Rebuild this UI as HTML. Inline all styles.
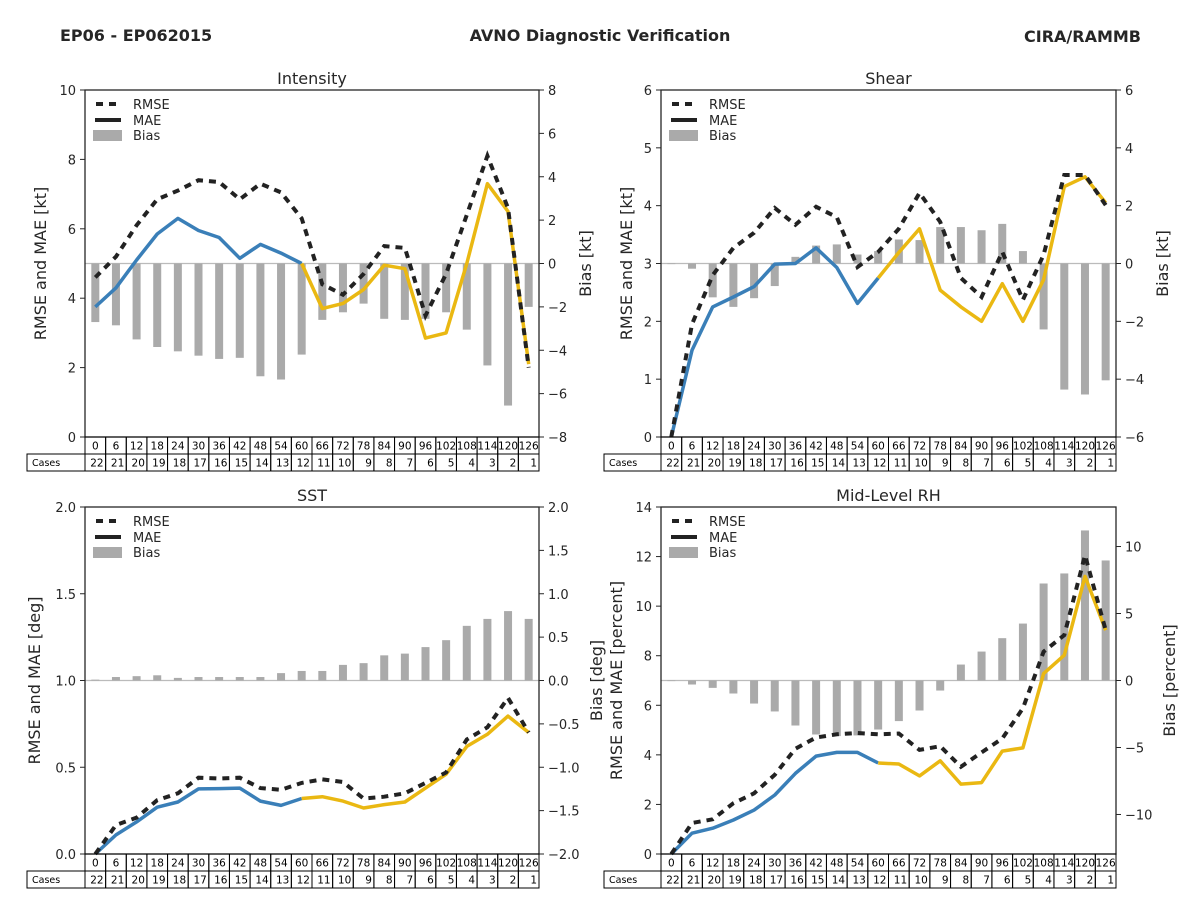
<!DOCTYPE html>
<html><head><meta charset="utf-8"><style>
html,body{margin:0;padding:0;background:#fff;}
svg{display:block;font-family:"DejaVu Sans","Liberation Sans",sans-serif;}
</style></head><body>
<svg id="fig" width="1200" height="900" viewBox="0 0 1200 900" xmlns="http://www.w3.org/2000/svg">
<text x="60" y="41" font-size="16" font-weight="bold" fill="#262626">EP06 - EP062015</text>
<text x="600" y="41" font-size="16" font-weight="bold" fill="#262626" text-anchor="middle">AVNO Diagnostic Verification</text>
<text x="1141" y="42" font-size="16" font-weight="bold" fill="#262626" text-anchor="end">CIRA/RAMMB</text>
</svg>
<script>
const hours = [0,6,12,18,24,30,36,42,48,54,60,66,72,78,84,90,96,102,108,114,120,126];
const cases = [22,21,20,19,18,17,16,15,14,13,12,11,10,9,8,7,6,5,4,3,2,1];

const intRmse = [4.6,5.2,6.1,6.85,7.1,7.4,7.35,6.85,7.3,7.05,6.3,4.4,4.1,4.7,5.5,5.45,3.5,4.7,6.4,8.1,6.6,2.0];
const intMae  = [3.75,4.3,5.1,5.85,6.3,5.95,5.75,5.15,5.55,5.3,5.0,3.7,3.85,4.25,4.95,4.85,2.85,3.0,5.0,7.3,6.5,2.1];
const intBias = [-2.7,-2.85,-3.5,-3.85,-4.05,-4.25,-4.4,-4.35,-5.2,-5.35,-4.2,-2.6,-2.25,-1.85,-2.55,-2.6,-2.55,-2.25,-3.05,-4.7,-6.55,-2.0];

const shrRmse = [0,1.95,2.8,3.27,3.53,3.96,3.67,3.98,3.8,2.94,3.2,3.6,4.22,3.72,2.75,2.42,3.2,2.37,3.15,4.53,4.53,4.01];
const shrMae  = [0,1.5,2.25,2.42,2.6,2.99,3.0,3.27,2.93,2.31,2.75,3.19,3.6,2.54,2.25,2.0,2.65,2.0,2.72,4.33,4.5,4.05];
const shrBias = [0,-0.18,-1.17,-1.5,-1.2,-0.78,0.23,0.62,0.66,0.31,0.43,0.83,0.81,1.26,1.26,1.15,1.37,0.43,-2.28,-4.36,-4.53,-4.04];

const sstRmse = [0,0.167,0.21,0.31,0.35,0.44,0.435,0.44,0.38,0.37,0.41,0.43,0.415,0.32,0.33,0.35,0.41,0.47,0.66,0.73,0.9,0.70];
const sstMae  = [0,0.11,0.185,0.27,0.30,0.375,0.377,0.38,0.305,0.28,0.32,0.33,0.305,0.265,0.285,0.30,0.38,0.46,0.62,0.69,0.795,0.70];
const sstBias = [0.01,0.04,0.05,0.06,0.03,0.04,0.04,0.04,0.04,0.085,0.11,0.11,0.18,0.2,0.29,0.31,0.385,0.465,0.63,0.71,0.8,0.71];

const rhRmse = [0,1.25,1.4,2.05,2.45,3.2,4.25,4.7,4.83,4.88,4.83,4.86,4.2,4.35,3.52,4.1,4.66,5.88,8.16,8.83,12.05,9.03];
const rhMae  = [0,0.84,1.04,1.37,1.77,2.38,3.25,3.95,4.1,4.1,3.67,3.63,3.15,3.76,2.82,2.88,4.15,4.28,7.28,8.02,11.2,9.03];
const rhBias = [0,-0.3,-0.55,-0.97,-1.72,-2.31,-3.36,-4.03,-4.15,-4.1,-3.66,-3.03,-2.24,-0.75,1.19,2.16,3.16,4.25,7.24,7.99,11.2,8.96];

const intLeftTicks = [0,2,4,6,8,10];
const intRightTicks = [-8,-6,-4,-2,0,2,4,6,8];
const shrLeftTicks = [0,1,2,3,4,5,6];
const shrRightTicks = [-6,-4,-2,0,2,4,6];
const sstLeftTicks = [0,0.5,1.0,1.5,2.0];
const sstRightTicks = [-2,-1.5,-1,-0.5,0,0.5,1,1.5,2];
const rhLeftTicks = [0,2,4,6,8,10,12,14];
const rhRightTicks = [-10,-5,0,5,10];

const NS = "http://www.w3.org/2000/svg";
const svg = document.getElementById('fig');
function mk(tag, attrs, parent, text){
  const e = document.createElementNS(NS, tag);
  for (const k in attrs) e.setAttribute(k, attrs[k]);
  if (text !== undefined) e.textContent = text;
  (parent||svg).appendChild(e);
  return e;
}
function fmt(v, dec){ const s = Math.abs(v).toFixed(dec); return (v < 0 ? '\u2212' : '') + s; }

function panel(o){
  const g = mk('g', {});
  
  
  const L=o.L,R=o.R,T=o.T,B=o.B, n=hours.length, w=(R-L)/n;
  const x = i => L + (i+0.5)*w;
  const yl = v => B - (v - o.lmin)/(o.lmax - o.lmin)*(B-T);
  const yr = v => B - (v - o.rmin)/(o.rmax - o.rmin)*(B-T);

  const t = mk('text', {x:(L+R)/2, y:T-6, 'font-size':16, 'text-anchor':'middle', fill:'#262626'}, g, o.title);
  
  

  // zero bias line
  const z = mk('line', {x1:L, x2:R, y1:yr(0), y2:yr(0), stroke:'#bbbbbb', 'stroke-width':1.2}, g);
  
  

  // bars
  const bw = 8;
  o.bias.forEach((v,i)=>{
    const y0 = yr(0), y1 = yr(v);
    const r = mk('rect', {x:x(i)-bw/2, y:Math.min(y0,y1), width:bw, height:Math.max(Math.abs(y1-y0),0.6), fill:'#aaaaaa'}, g);
    
    
  });

  // MAE lines
  const pts = (arr, a, b) => arr.slice(a, b).map((v,k)=> x(a+k).toFixed(1)+','+yl(v).toFixed(1)).join(' ');
  const m1 = mk('polyline', {points:pts(o.mae,0,11), fill:'none', stroke:'#3a7fb8', 'stroke-width':3.5, 'stroke-linejoin':'round'}, g);
  
  
  const m2 = mk('polyline', {points:pts(o.mae,10,22), fill:'none', stroke:'#eab812', 'stroke-width':3.5, 'stroke-linejoin':'round'}, g);
  
  
  const rm = mk('polyline', {points:pts(o.rmse,0,22), fill:'none', stroke:'#222', 'stroke-width':4, 'stroke-dasharray':'7,6'}, g);
  
  

  // frame
  const f = mk('rect', {x:L, y:T, width:R-L, height:B-T, fill:'none', stroke:'#262626', 'stroke-width':1.3}, g);
  
  

  // left ticks
  o.lticks.forEach(v=>{
    const y = yl(v);
    mk('line', {x1:L-5, x2:L, y1:y, y2:y, stroke:'#262626', 'stroke-width':1}, g);
    const tl = mk('text', {x:L-9, y:y+5, 'font-size':13, 'text-anchor':'end', fill:'#262626'}, g, fmt(v, o.ldec));
    
    
  });
  o.rticks.forEach(v=>{
    const y = yr(v);
    mk('line', {x1:R, x2:R+5, y1:y, y2:y, stroke:'#262626', 'stroke-width':1}, g);
    const tr = mk('text', {x:R+9, y:y+5, 'font-size':13, 'text-anchor':'start', fill:'#262626'}, g, fmt(v, o.rdec));
    
    
  });

  // axis labels
  o.llabels.forEach(lb=>{
    const a = mk('text', {x:lb.x, y:(T+B)/2, 'font-size':16, 'text-anchor':'middle', fill:'#262626', transform:`rotate(-90 ${lb.x} ${(T+B)/2})`}, g, lb.text);
    
    
  });
  if (o.rlabel){
    const rx = o.rlabel.x;
    const a = mk('text', {x:rx, y:(T+B)/2, 'font-size':16, 'text-anchor':'middle', fill:'#262626', transform:`rotate(-90 ${rx} ${(T+B)/2})`}, g, o.rlabel.text);
    
    
  }

  // legend
  const lg = mk('g', {}, g);
  
  
  const lx = L+8, ly = T+14;
  mk('line', {x1:lx+3, x2:lx+28, y1:ly, y2:ly, stroke:'#222', 'stroke-width':4, 'stroke-dasharray':'7,6'}, lg);
  const e1 = mk('text', {x:lx+40, y:ly+5, 'font-size':13, fill:'#262626'}, lg, 'RMSE');
  
  
  mk('line', {x1:lx+2, x2:lx+28, y1:ly+16, y2:ly+16, stroke:'#222', 'stroke-width':4}, lg);
  const e2 = mk('text', {x:lx+40, y:ly+21, 'font-size':13, fill:'#262626'}, lg, 'MAE');
  
  
  mk('rect', {x:lx, y:ly+26, width:29, height:11, fill:'#aaaaaa'}, lg);
  const e3 = mk('text', {x:lx+40, y:ly+36, 'font-size':13, fill:'#262626'}, lg, 'Bias');
  
  

  // table
  const tb = mk('g', {}, g);
  
  
  const r1 = B, r2 = B+17, r3 = B+34;
  mk('rect', {x:o.tableL, y:r2, width:L-o.tableL, height:17, fill:'none', stroke:'#000', 'stroke-width':1}, tb);
  const cl = mk('text', {x:o.tableL+5, y:r2+12, 'font-size':9.5, fill:'#000'}, tb, 'Cases');
  
  
  hours.forEach((h,i)=>{
    const cx = L + i*w;
    mk('rect', {x:cx, y:r1, width:w, height:17, fill:'none', stroke:'#000', 'stroke-width':1}, tb);
    mk('rect', {x:cx, y:r2, width:w, height:17, fill:'none', stroke:'#000', 'stroke-width':1}, tb);
    const ht = mk('text', {x:cx+w/2, y:r1+12.5, 'font-size':10.5, 'text-anchor':'middle', fill:'#000'}, tb, String(h));
    
    
    const ct = mk('text', {x:cx+w-2, y:r2+12.5, 'font-size':10.5, 'text-anchor':'end', fill:'#000'}, tb, String(cases[i]));
    
    
  });
}

panel({name:'intensity', title:'Intensity', L:85, R:539, T:90, B:437, lmin:0, lmax:10, rmin:-8, rmax:8, ldec:0, rdec:0,
  rmse:intRmse, mae:intMae, bias:intBias, lticks:intLeftTicks, rticks:intRightTicks, tableL:27,
  llabels:[{x:46, text:'RMSE and MAE [kt]'}], rlabel:{x:591, text:'Bias [kt]'}});
panel({name:'shear', title:'Shear', L:661, R:1116, T:90, B:437, lmin:0, lmax:6, rmin:-6, rmax:6, ldec:0, rdec:0,
  rmse:shrRmse, mae:shrMae, bias:shrBias, lticks:shrLeftTicks, rticks:shrRightTicks, tableL:604,
  llabels:[{x:632, text:'RMSE and MAE [kt]'}], rlabel:{x:1168, text:'Bias [kt]'}});
panel({name:'sst', title:'SST', L:85, R:539, T:507, B:854, lmin:0, lmax:2, rmin:-2, rmax:2, ldec:1, rdec:1,
  rmse:sstRmse, mae:sstMae, bias:sstBias, lticks:sstLeftTicks, rticks:sstRightTicks, tableL:27,
  llabels:[{x:40, text:'RMSE and MAE [deg]'}], rlabel:null});
panel({name:'mid-level-rh', title:'Mid-Level RH', L:661, R:1116, T:507, B:854, lmin:0, lmax:14, rmin:-12.95, rmax:12.95, ldec:0, rdec:0,
  rmse:rhRmse, mae:rhMae, bias:rhBias, lticks:rhLeftTicks, rticks:rhRightTicks, tableL:604,
  llabels:[{x:602, text:'Bias [deg]'},{x:622, text:'RMSE and MAE [percent]'}], rlabel:{x:1175, text:'Bias [percent]'}});
</script>
</body></html>
